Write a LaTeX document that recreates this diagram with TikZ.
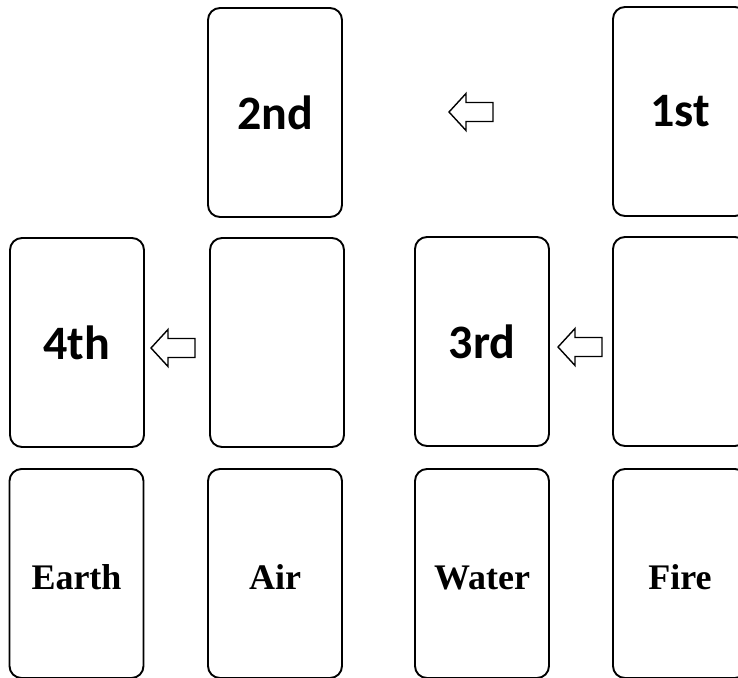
\documentclass[tikz,border=0pt]{standalone}
\usepackage{fontspec}
\setsansfont{Carlito}
\setmainfont{Liberation Serif}
\begin{document}
\begin{tikzpicture}[x=1pt,y=-1pt,
  card/.style={draw, line width=1.9pt, rounded corners=12pt, minimum width=134pt, minimum height=209pt, inner sep=0pt},
  rank/.style={font=\sffamily\bfseries\fontsize{48}{48}\selectfont},
  elem/.style={font=\rmfamily\bfseries\fontsize{36}{36}\selectfont, text height=32pt, text depth=0pt},
  blockarrow/.pic={\draw[line width=1.4pt, line join=miter] (0,0) -- (17,-18.5) -- (17,-9.5) -- (44,-9.5) -- (44,9.5) -- (17,9.5) -- (17,18.5) -- cycle;}
]
\useasboundingbox (0,0) rectangle (738,677);
\clip (0,0) rectangle (738,677);
% top row
\node[card, rank] (second) at (275,112.5) {2nd};
\node[card, rank] (first) at (680,111.5) {1st};
% middle row
\node[card, rank] (fourth) at (77,342.5) {4th};
\node[card] (blankA) at (277,342.5) {};
\node[card, rank] (third) at (482,341.5) {3rd};
\node[card] (blankB) at (680,341.5) {};
% bottom row
\node[card, elem] (earth) at (76.5,573.5) {Earth};
\node[card, elem] (air) at (275,573.5) {Air};
\node[card, elem] (water) at (482,573.5) {Water};
\node[card, elem] (fire) at (680,573.5) {Fire};
% arrows
\pic at (449,112) {blockarrow};
\pic at (151,348) {blockarrow};
\pic at (558,347) {blockarrow};
\end{tikzpicture}
\end{document}
